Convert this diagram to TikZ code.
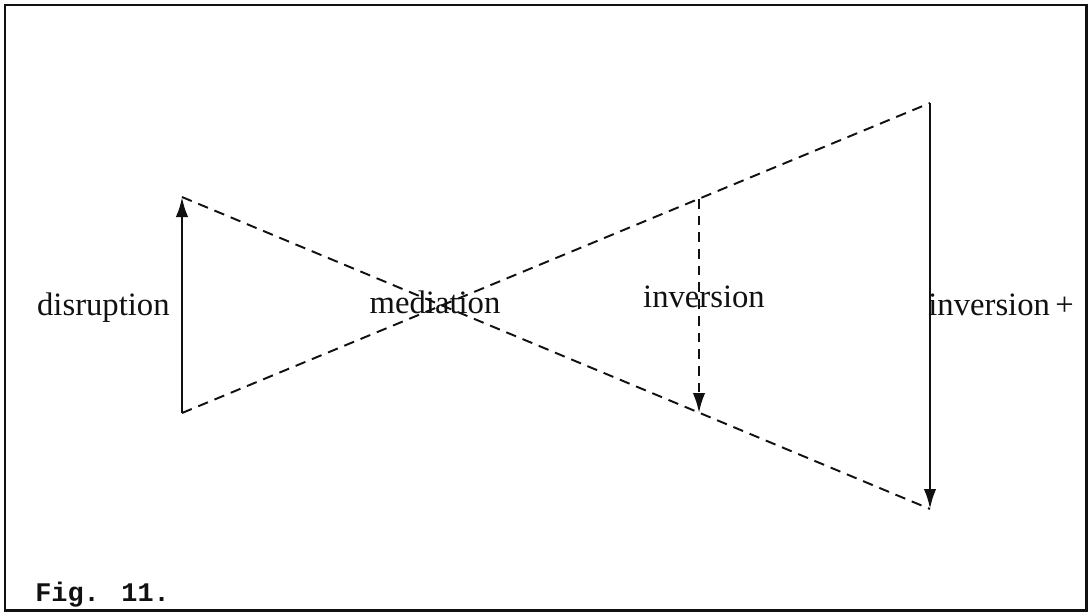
\documentclass[tikz,border=0pt]{standalone}
\usepackage{fontspec}
\setmainfont{Liberation Serif}
\newfontfamily\figmono{Liberation Mono}
\usetikzlibrary{arrows.meta}
\definecolor{ink}{HTML}{111111}
\tikzset{
  framebox/.style={draw=ink,line width=1.7pt},
  bowline/.style={draw=ink,line width=1.1pt,dash pattern=on 6pt off 4pt},
  solidarr/.style={-{Latex[length=4mm,width=2.5mm]},draw=ink,line width=1.5pt},
  dasharr/.style={-{Latex[length=4mm,width=2.5mm]},draw=ink,line width=1.4pt,
                  dash pattern=on 5.5pt off 4pt},
  lbl/.style={inner sep=0pt,text=ink,font=\fontsize{18.6}{22}\selectfont},
  figlbl/.style={inner sep=0pt,text=ink,font=\figmono\bfseries\fontsize{15.3}{18}\selectfont}
}
\begin{document}
\begin{tikzpicture}[x=0.02cm,y=-0.02cm]
    \path[use as bounding box] (0,0) rectangle (1088,613);
    \draw[framebox] (5,5) rectangle (1086,610);

    \coordinate (lt) at (182,197);
    \coordinate (lb) at (182,413);
    \coordinate (rt) at (930,103);
    \coordinate (rb) at (930,509);
    \coordinate (it) at (699,199);
    \coordinate (ib) at (699,413);

    \draw[bowline] (lt) -- (rb);
    \draw[bowline] (lb) -- (rt);
    \draw[solidarr] (lb) -- (lt);
    \draw[solidarr] (rt) -- (rb);
    \draw[dasharr] (it) -- (ib);

    \node[lbl,anchor=base east] (disr) at (170,315) {disruption};
    \node[lbl,anchor=base] (medi) at (435,313) {mediation};
    \node[lbl,anchor=base] (inv) at (704,307) {inversion};
    \node[lbl,anchor=base west] (invplus) at (928,315) {inversion\,+};
    \node[figlbl,anchor=base west] (fig) at (35,601) {Fig. 11.};
\end{tikzpicture}
\end{document}
